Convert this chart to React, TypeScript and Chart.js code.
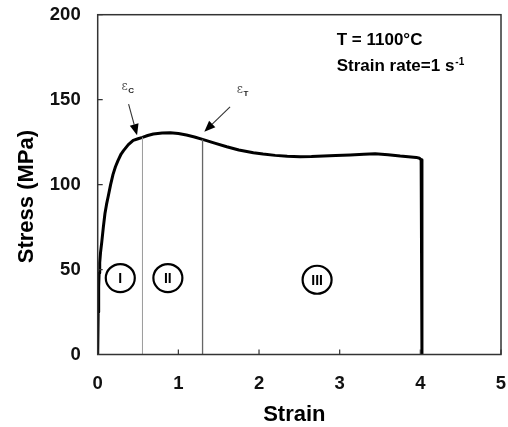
import React, { useEffect, useRef } from "react";
import { Chart, registerables } from "chart.js";

Chart.register(...registerables);

// ---- data ----
const strainValues = [
  0, 0.006, 0.012, 0.018, 0.025, 0.035, 0.05, 0.07, 0.09, 0.11, 0.13, 0.16, 0.19, 0.22, 0.25, 0.29,
  0.32, 0.38, 0.44, 0.5, 0.555, 0.62, 0.69, 0.8, 0.9, 1.0, 1.1, 1.2, 1.3, 1.45, 1.6, 1.75, 1.93,
  2.05, 2.2, 2.35, 2.51, 2.65, 2.8, 2.95, 3.13, 3.3, 3.44, 3.6, 3.75, 3.85, 3.95, 3.99, 4.01, 4.02,
  4.02,
];
const stressValues = [
  0, 25, 40, 48, 54, 60, 66, 75, 83, 88.5, 93, 100, 106, 110.5, 114, 118,
  120, 123.5, 126, 127, 127.8, 128.9, 129.8, 130.4, 130.5, 130.1, 129.2, 128, 126.6, 124.4, 122.3, 120.4, 118.8,
  118, 117.2, 116.7, 116.4, 116.5, 116.8, 117.1, 117.4, 117.8, 118.2, 117.6, 116.8, 116.4, 116, 115.5, 114.6, 112.5,
  0,
];
const criticalStrain = 0.555;
const criticalStress = 127.8;
const transitionStrain = 1.3;
const transitionStress = 126.6;

const xTickValues = [0, 1, 2, 3, 4, 5];
const yTickValues = [0, 50, 100, 150, 200];

const regionLabels = ["I", "II", "III"];
const regionStrain = [0.28, 0.87, 2.72];
const regionStress = [45, 45, 44];

const conditionLines = ["T = 1100°C", "Strain rate=1 s"];
const conditionSup = "-1";
const conditionStrain = 2.963;
const conditionStress = [182.1, 167.0];

const epsLabels = ["C", "T"];
const epsLabelStrain = [0.296, 1.724];
const epsLabelStress = [155.7, 153.7];
const arrowStartStrain = [0.383, 1.641];
const arrowStartStress = [147.4, 145.8];
const arrowTipStrain = [0.488, 1.322];
const arrowTipStress = [129.1, 131.1];

const xTitle = "Strain";
const yTitle = "Stress (MPa)";

const SANS = "'Liberation Sans', Arial, sans-serif";

const TARGET = { left: 97.7, top: 14.7, right: 501, bottom: 354.5 };

const decorPlugin = {
  id: "decor",
  afterDatasetsDraw(chart: any) {
    const ctx = chart.ctx as CanvasRenderingContext2D;
    const xs = chart.scales.x;
    const ys = chart.scales.y;
    const ca = chart.chartArea;
    const px = (v: number) => xs.getPixelForValue(v);
    const py = (v: number) => ys.getPixelForValue(v);

    ctx.save();
    // frame
    ctx.strokeStyle = "#333";
    ctx.lineWidth = 1.5;
    ctx.strokeRect(ca.left, ca.top, ca.right - ca.left, ca.bottom - ca.top);

    // inward ticks
    ctx.lineWidth = 1.2;
    ctx.beginPath();
    xTickValues.forEach((v) => {
      const x = px(v);
      ctx.moveTo(x, ca.bottom);
      ctx.lineTo(x, ca.bottom - 5);
    });
    yTickValues.forEach((v) => {
      const y = py(v);
      ctx.moveTo(ca.left, y);
      ctx.lineTo(ca.left + 5, y);
    });
    ctx.stroke();

    // arrows
    for (let i = 0; i < epsLabels.length; i++) {
      const x0 = px(arrowStartStrain[i]);
      const y0 = py(arrowStartStress[i]);
      const x1 = px(arrowTipStrain[i]);
      const y1 = py(arrowTipStress[i]);
      const ang = Math.atan2(y1 - y0, x1 - x0);
      const headLen = 11;
      const headW = 4.5;
      const bx = x1 - headLen * Math.cos(ang);
      const by = y1 - headLen * Math.sin(ang);
      ctx.strokeStyle = "#333";
      ctx.lineWidth = 1.1;
      ctx.beginPath();
      ctx.moveTo(x0, y0);
      ctx.lineTo(bx, by);
      ctx.stroke();
      ctx.fillStyle = "#000";
      ctx.beginPath();
      ctx.moveTo(x1, y1);
      ctx.lineTo(bx + headW * Math.sin(ang), by - headW * Math.cos(ang));
      ctx.lineTo(bx - headW * Math.sin(ang), by + headW * Math.cos(ang));
      ctx.closePath();
      ctx.fill();

      const lx = px(epsLabelStrain[i]);
      const ly = py(epsLabelStress[i]);
      ctx.fillStyle = "#555";
      ctx.font = `12px 'DejaVu Serif', serif`;
      ctx.textAlign = "left";
      ctx.textBaseline = "alphabetic";
      ctx.fillText("ε", lx, ly);
      const w = ctx.measureText("ε").width;
      ctx.fillStyle = "#222";
      ctx.font = `bold 8px ${SANS}`;
      ctx.fillText(epsLabels[i], lx + w + 0.5, ly + 3);
    }

    // region circles
    regionLabels.forEach((lab, i) => {
      const cx = px(regionStrain[i]);
      const cy = py(regionStress[i]);
      ctx.strokeStyle = "#000";
      ctx.lineWidth = 2.2;
      ctx.beginPath();
      ctx.ellipse(cx, cy, 14.5, 14, 0, 0, Math.PI * 2);
      ctx.stroke();
      ctx.fillStyle = "#000";
      ctx.font = `bold 14px ${SANS}`;
      ctx.textAlign = "center";
      ctx.textBaseline = "middle";
      ctx.fillText(lab, cx, cy + 1);
    });

    // condition text
    ctx.fillStyle = "#000";
    ctx.textAlign = "left";
    ctx.textBaseline = "alphabetic";
    ctx.font = `bold 17px ${SANS}`;
    const tx = px(conditionStrain);
    conditionLines.forEach((t, i) => {
      ctx.fillText(t, tx, py(conditionStress[i]));
    });
    const w2 = ctx.measureText(conditionLines[1]).width;
    ctx.font = `bold 10px ${SANS}`;
    ctx.fillText(conditionSup, tx + w2 + 1, py(conditionStress[1]) - 6);

    // axis titles
    ctx.font = `bold 22px ${SANS}`;
    ctx.fillStyle = "#000";
    ctx.textAlign = "center";
    ctx.fillText(xTitle, (ca.left + ca.right) / 2 - 5, 421.3);
    ctx.translate(33.3, (ca.top + ca.bottom) / 2 + 12);
    ctx.rotate(-Math.PI / 2);
    ctx.fillText(yTitle, 0, 0);
    ctx.restore();
  },
};

export default function App() {
  const ref = useRef<HTMLCanvasElement | null>(null);
  useEffect(() => {
    if (!ref.current) return;
    const curve = strainValues.map((s, i) => ({ x: s, y: stressValues[i] }));
    const padding = { left: 0, right: 508 - TARGET.right, top: TARGET.top, bottom: 0 };
    const chart = new Chart(ref.current, {
      type: "scatter",
      data: {
        datasets: [
          {
            data: [
              { x: criticalStrain, y: 0 },
              { x: criticalStrain, y: criticalStress },
            ],
            showLine: true,
            borderColor: "#9a9a9a",
            borderWidth: 1,
            pointRadius: 0,
          },
          {
            data: [
              { x: transitionStrain, y: 0 },
              { x: transitionStrain, y: transitionStress },
            ],
            showLine: true,
            borderColor: "#666",
            borderWidth: 1.3,
            pointRadius: 0,
          },
          {
            data: curve,
            showLine: true,
            borderColor: "#000",
            borderWidth: 3,
            pointRadius: 0,
            tension: 0,
            borderJoinStyle: "round",
          },
        ],
      },
      options: {
        animation: false,
        responsive: false,
        devicePixelRatio: 1,
        layout: { padding },
        plugins: { legend: { display: false }, tooltip: { enabled: false } },
        scales: {
          x: {
            type: "linear",
            min: 0,
            max: 5,
            grid: { display: false, drawTicks: true, tickLength: 18 },
            border: { display: false },
            ticks: {
              stepSize: 1,
              padding: 0,
              color: "#111",
              font: { family: SANS, weight: "bold", size: 18.5 },
            },
            afterFit: (s: any) => {
              s.height = 427 - TARGET.bottom;
            },
          },
          y: {
            type: "linear",
            min: 0,
            max: 200,
            grid: { display: false, drawTicks: true, tickLength: 17 },
            border: { display: false },
            ticks: {
              stepSize: 50,
              padding: 0,
              color: "#111",
              font: { family: SANS, weight: "bold", size: 18.5 },
            },
            afterFit: (s: any) => {
              s.width = TARGET.left;
            },
          },
        },
      } as any,
      plugins: [decorPlugin],
    });
    // nudge the layout padding so the plot area lands where the reference's is
    for (let k = 0; k < 4; k++) {
      const ca = chart.chartArea;
      const dTop = TARGET.top - ca.top;
      const dRight = ca.right - TARGET.right;
      if (Math.abs(dTop) < 0.2 && Math.abs(dRight) < 0.2) break;
      padding.top = Math.max(0, padding.top + dTop);
      padding.right = Math.max(0, padding.right + dRight);
      (chart.options as any).layout.padding = { ...padding };
      chart.update();
    }
    return () => chart.destroy();
  }, []);
  return (
    <div style={{ position: "fixed", left: 0, top: 0, width: 508, height: 427, background: "#fff" }}>
      <canvas ref={ref} width={508} height={427} style={{ width: 508, height: 427, display: "block" }} />
    </div>
  );
}
